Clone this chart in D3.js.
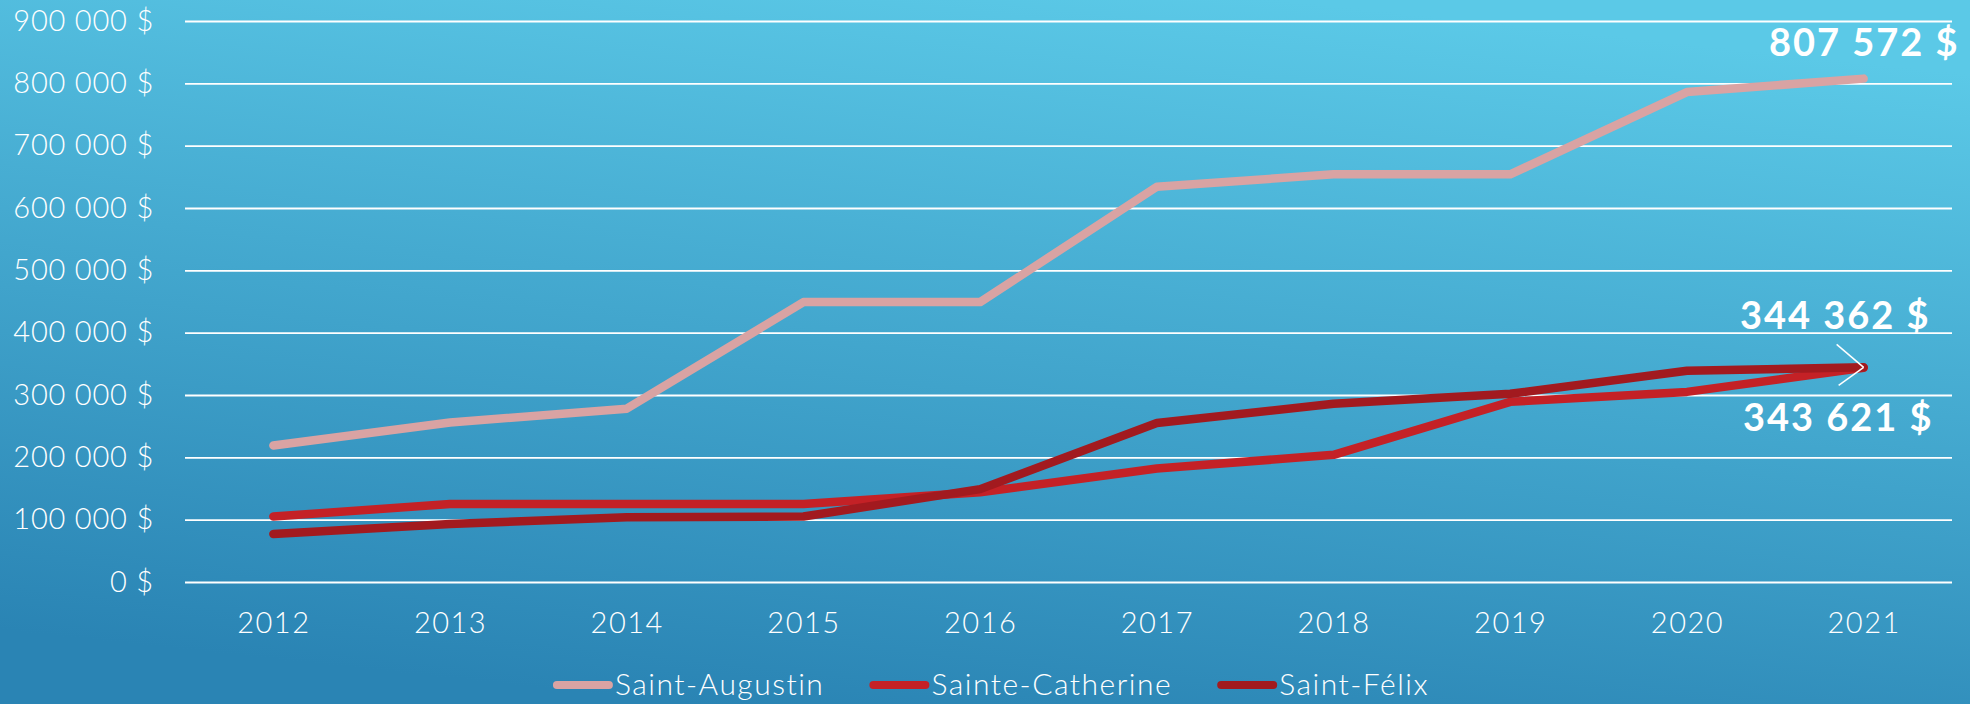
<body style="margin:0">
<script src="https://d3js.org/d3.v7.min.js"></script>
<script>
// window dimensions
var svgWidth = 1970;
var svgHeight = 704;
// plot area
var plotLeft = 185;
var plotRight = 1952;
var plotTop = 21;
var plotBottom = 582;

// data
var years = ['2012','2013','2014','2015','2016','2017','2018','2019','2020','2021'];
var seriesNames = ['Saint-Augustin','Sainte-Catherine','Saint-Félix'];
var staugustin = [219000,256000,278000,449000,449000,634000,654000,654000,786000,807572];
var stecatherine = [105000,125000,125000,125000,144000,182000,204000,289000,305000,343621];
var stfelix = [77000,93000,104000,105000,149000,255000,286000,302000,339000,344362];
var yTicks = [0,100000,200000,300000,400000,500000,600000,700000,800000,900000];
var colors = ['#d9a3a3','#c42126','#a21a1f'];

var allSeries = [staugustin, stecatherine, stfelix];

var svg = d3.select('body').append('svg')
	.attr('width', svgWidth)
	.attr('height', svgHeight)
	.style('display','block')

// background gradient
var defs = svg.append('defs')
var grad = defs.append('linearGradient')
	.attr('id','bg')
	.attr('x1','0.35').attr('y1','1')
	.attr('x2','0.65').attr('y2','0')
grad.append('stop').attr('offset','0').attr('stop-color','#2a84b4')
grad.append('stop').attr('offset','1').attr('stop-color','#5bc9e7')

svg.append('rect')
	.attr('width', svgWidth)
	.attr('height', svgHeight)
	.attr('fill','url(#bg)')

var x = d3.scalePoint()
	.domain(years)
	.range([plotLeft, plotRight])
	.padding(0.5)

var y = d3.scaleLinear()
	.domain([0, 900000])
	.range([plotBottom, plotTop])

// french style number : 900 000 $
function fmt(v){
	return d3.format(',')(v).replace(/,/g,' ') + ' $'
}

// gridlines + y labels
var yAxis = d3.axisLeft(y)
	.tickValues(yTicks)
	.tickSize(-(plotRight-plotLeft))
	.tickPadding(31)
	.tickFormat(fmt)

var gy = svg.append('g')
	.attr('transform','translate('+plotLeft+',0)')
	.call(yAxis)
gy.select('.domain').remove()
gy.selectAll('line')
	.attr('stroke','#fff')
	.attr('stroke-width',1.8)
gy.selectAll('text')
	.attr('fill','#fff')
	.style('font-family','Lato, sans-serif')
	.style('font-weight','300')
	.style('font-size','29px')
	.style('letter-spacing','0.8px')

// x labels
var xAxis = d3.axisBottom(x)
	.tickSize(0)
	.tickPadding(30)
var gx = svg.append('g')
	.attr('transform','translate(0,'+plotBottom+')')
	.call(xAxis)
gx.select('.domain').remove()
gx.selectAll('text')
	.attr('fill','#fff')
	.style('font-family','Lato, sans-serif')
	.style('font-weight','300')
	.style('font-size','29px')
	.style('letter-spacing','1.5px')

// lines
var line = d3.line()
	.x(function(d,i){ return x(years[i]) })
	.y(function(d){ return y(d) })

svg.selectAll('path.series')
	.data(allSeries)
	.enter().append('path')
	.attr('class','series')
	.attr('d', line)
	.attr('fill','none')
	.attr('stroke', function(d,i){ return colors[i] })
	.attr('stroke-width',8.5)
	.attr('stroke-linecap','round')
	.attr('stroke-linejoin','round')

// end labels
var last = years[years.length-1]
var n = years.length-1
var labels = [
	{v: staugustin[n], dx: 96, dy: -23},
	{v: stfelix[n], dx: 67, dy: -38},
	{v: stecatherine[n], dx: 70, dy: 63}
]
svg.selectAll('text.endlabel')
	.data(labels)
	.enter().append('text')
	.attr('class','endlabel')
	.attr('x', function(d){ return x(last)+d.dx })
	.attr('y', function(d){ return y(d.v)+d.dy })
	.attr('text-anchor','end')
	.attr('fill','#fff')
	.style('font-family','Lato, sans-serif')
	.style('font-weight','bold')
	.style('font-size','38px')
	.style('letter-spacing','2px')
	.text(function(d){ return fmt(d.v) })

// leader lines to the 2021 points
var tipX = x(last)
var tipY = y(stfelix[n])
svg.append('line')
	.attr('x1', tipX-27).attr('y1', tipY-23)
	.attr('x2', tipX).attr('y2', tipY)
	.attr('stroke','#fff').attr('stroke-width',1.5)
svg.append('line')
	.attr('x1', tipX-25).attr('y1', tipY+18)
	.attr('x2', tipX).attr('y2', tipY)
	.attr('stroke','#fff').attr('stroke-width',1.5)

// legend
var legend = svg.append('g')
var lx = 0
seriesNames.forEach(function(name,i){
	var item = legend.append('g').attr('transform','translate('+lx+',0)')
	item.append('line')
		.attr('x1',4).attr('x2',56)
		.attr('y1',0).attr('y2',0)
		.attr('stroke',colors[i])
		.attr('stroke-width',8)
		.attr('stroke-linecap','round')
	var t = item.append('text')
		.attr('x',62)
		.attr('y',10)
		.attr('fill','#fff')
		.style('font-family','Lato, sans-serif')
		.style('font-weight','300')
		.style('font-size','30px')
		.style('letter-spacing','1.5px')
		.text(name)
	lx += 62 + t.node().getComputedTextLength() + 45
})
lx -= 45
legend.attr('transform','translate('+(991-lx/2)+',685)')
</script>
</body>
